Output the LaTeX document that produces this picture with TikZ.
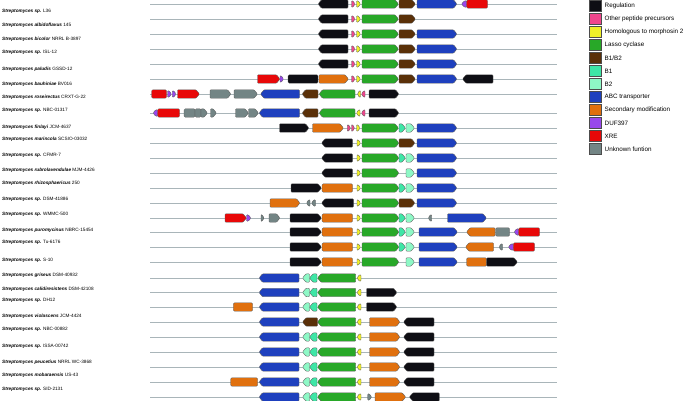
\documentclass[tikz,border=0pt]{standalone}
\usepackage{fontspec}
\setmainfont{Liberation Sans}
\definecolor{reg}{HTML}{0E0E14}
\definecolor{pep}{HTML}{F0468C}
\definecolor{mor}{HTML}{F0F028}
\definecolor{las}{HTML}{28A828}
\definecolor{bb}{HTML}{5A3008}
\definecolor{bone}{HTML}{3EE6A6}
\definecolor{btwo}{HTML}{8EF8C6}
\definecolor{abc}{HTML}{1E40BE}
\definecolor{sec}{HTML}{E0700E}
\definecolor{duf}{HTML}{9848EC}
\definecolor{xre}{HTML}{E80808}
\definecolor{unk}{HTML}{738585}
\definecolor{trk}{HTML}{A9B5B9}
\tikzset{
  gene/.style={draw=black!65,line width=0.35pt,rounded corners=0.8pt,line join=round},
  track/.style={draw=trk,line width=0.9pt},
  lab/.style={anchor=west,inner sep=0pt,font=\fontsize{4.7}{5.5}\selectfont},
  legbox/.style={draw=black!70,line width=0.5pt},
  legtext/.style={anchor=west,inner sep=0pt,font=\fontsize{6.3}{7.5}\selectfont}
}
\newcommand\gR[5][4.2]{\pgfmathsetmacro\gtip{min(3.5,0.6*(#3-#2))}%
  \filldraw[gene,fill=#5] (#2,{#4-#1}) -- ({#3-\gtip},{#4-#1}) -- (#3,#4) -- ({#3-\gtip},{#4+#1}) -- (#2,{#4+#1}) -- cycle;}
\newcommand\gL[5][4.2]{\pgfmathsetmacro\gtip{min(3.5,0.6*(#3-#2))}%
  \filldraw[gene,fill=#5] (#3,{#4-#1}) -- ({#2+\gtip},{#4-#1}) -- (#2,#4) -- ({#2+\gtip},{#4+#1}) -- (#3,{#4+#1}) -- cycle;}
\newcommand\gB[5][4.2]{\filldraw[gene,rounded corners=1.2pt,fill=#5] (#2,{#4-#1}) rectangle (#3,{#4+#1});}
\newcommand\spl[4]{\node[lab] (#1) at (2,#2) {\textbf{\textit{Streptomyces #3}} #4};}
\begin{document}
\begin{tikzpicture}[x=1pt,y=-1pt]
\useasboundingbox (0,0) rectangle (685,401);
% tracks
\foreach \yy in {4,19,34,49,64,79,94,113,128,143,158,173,188,203,218,232,247,262,278,292.5,307,322,337,352,367,382,397}
  \draw[track] (150,\yy) -- (557,\yy);
% labels
\spl{l1}{11}{sp.}{L36}
\spl{l2}{25.7}{albidoflavus}{145}
\spl{l3}{39.3}{bicolor}{NRRL B-3897}
\spl{l4}{52.7}{sp.}{ISL-12}
\spl{l5}{69.3}{paludis}{GSSD-12}
\spl{l6}{84.3}{bauhiniae}{BV016}
\spl{l7}{97.7}{roseirectus}{CRXT-G-22}
\spl{l8}{110}{sp.}{NBC-01317}
\spl{l9}{127.3}{finlayi}{JCM-4637}
\spl{l10}{139.3}{marincola}{SCSIO-03032}
\spl{l11}{155}{sp.}{CFMR-7}
\spl{l12}{170}{rubrolavendulae}{MJM-4426}
\spl{l13}{183.3}{rhizosphaericus}{250}
\spl{l14}{199.3}{sp.}{DSM-41886}
\spl{l15}{214.3}{sp.}{WMMC-500}
\spl{l16}{230}{puromycinus}{NBRC-15454}
\spl{l17}{242.7}{sp.}{Tu-6176}
\spl{l18}{260}{sp.}{S-10}
\spl{l19}{275}{griseus}{DSM-40932}
\spl{l20}{289.3}{calidiresistens}{DSM-42108}
\spl{l21}{300.7}{sp.}{DH12}
\spl{l22}{316.7}{violascens}{JCM-4424}
\spl{l23}{329.3}{sp.}{NBC-00882}
\spl{l24}{346.7}{sp.}{ISSA-00742}
\spl{l25}{362.7}{peucetius}{NRRL WC-3868}
\spl{l26}{375}{mobaraensis}{US-43}
\spl{l27}{389.3}{sp.}{SID-2131}
% row 1
\gL{318}{348}{4}{reg}\gR[3.2]{351.5}{355}{4}{pep}\gR[3.2]{356.5}{360.5}{4}{mor}
\gR{362}{398.5}{4}{las}\gR{399}{415.5}{4}{bb}\gR{417}{457}{4}{abc}
\gL[3.2]{461.5}{466.5}{4}{duf}\gB{466.5}{487.5}{4}{xre}
% row 2
\gL{318}{348}{19}{reg}\gR[3.2]{351.5}{355}{19}{pep}\gR[3.2]{356.5}{360.5}{19}{mor}
\gR{362}{398.5}{19}{las}\gR{399}{415.5}{19}{bb}
% rows 3-5
\foreach \yy in {34,49,64}{
\gL{318}{348}{\yy}{reg}\gR[3.2]{351.5}{355}{\yy}{pep}\gR[3.2]{356.5}{360.5}{\yy}{mor}
\gR{362}{398.5}{\yy}{las}\gR{399}{415.5}{\yy}{bb}\gR{417}{457}{\yy}{abc}}
% row 6
\gR{257.5}{280}{79}{xre}\gR[3.2]{280}{283.5}{79}{duf}\gB{288}{318}{79}{reg}\gR{319}{348.5}{79}{sec}
\gR[3.2]{351.5}{355}{79}{pep}\gR[3.2]{356.5}{360.5}{79}{mor}
\gR{362}{398.5}{79}{las}\gR{399}{415.5}{79}{bb}\gR{417}{457}{79}{abc}\gL{462.5}{493}{79}{reg}
% row 7
\gB{151.5}{166.5}{94}{xre}\gR[3.2]{167.5}{171.5}{94}{duf}\gR[3.2]{172.3}{176}{94}{duf}\gR{177.5}{199.5}{94}{xre}
\gR{210}{231}{94}{unk}\gR{234}{257.5}{94}{unk}\gL{260.5}{299.5}{94}{abc}\gL{302}{318}{94}{bb}
\gL{319}{355}{94}{las}\gL[3.2]{357.5}{360.5}{94}{mor}\gL[3.2]{361.5}{365}{94}{pep}\gR{369}{399}{94}{reg}
% row 8
\gL[3.2]{153}{157.5}{113}{duf}\gB{157.5}{179.5}{113}{xre}\gB{184}{195}{113}{unk}\gB{195}{201}{113}{unk}
\gR{201}{207.5}{113}{unk}\gR{210.5}{216.5}{113}{unk}\gR{235.5}{248.5}{113}{unk}\gR{248.5}{258.5}{113}{unk}
\gL{259}{299.5}{113}{abc}\gL{302}{318}{113}{bb}\gL{319}{355}{113}{las}
\gL[3.2]{356.5}{360}{113}{mor}\gL[3.2]{361.5}{365}{113}{pep}\gR{369}{399}{113}{reg}
% row 9
\gR{279.5}{309}{128}{reg}\gR{312.5}{343.5}{128}{sec}\gR[3.2]{347.3}{350.5}{128}{pep}\gR[3.2]{351.5}{354.5}{128}{pep}
\gR[3.2]{356.5}{360}{128}{mor}\gR{362}{398.5}{128}{las}\gR{399}{405.5}{128}{bone}\gR{406}{414.5}{128}{btwo}\gR{417}{457}{128}{abc}
% row 10
\gL{321.5}{352.5}{143}{reg}\gR[3.2]{357}{360.5}{143}{mor}\gR{362}{399}{143}{las}\gR{399}{415}{143}{bb}\gR{417}{457}{143}{abc}
% row 11
\gL{321.5}{352.5}{158}{reg}\gR[3.2]{357}{360.5}{158}{mor}\gR{362}{399}{158}{las}\gR{399}{405.5}{158}{bone}\gR{406}{414.5}{158}{btwo}\gR{417}{457}{158}{abc}
% row 12
\gL{321.5}{352.5}{173}{reg}\gR[3.2]{357}{360.5}{173}{mor}\gR{362}{399}{173}{las}\gR{406}{414.5}{173}{btwo}\gR{417}{457}{173}{abc}
% row 13
\gR{291}{321.5}{188}{reg}\gB{322}{352.5}{188}{sec}\gR[3.2]{357}{360.5}{188}{mor}\gR{362}{399}{188}{las}\gR{399}{405.5}{188}{bone}\gR{406}{414.5}{188}{btwo}\gR{417}{457}{188}{abc}
% row 14
\gR{270}{300}{203}{sec}\gL[3.2]{306.5}{310}{203}{unk}\gL[3.2]{311.5}{315.5}{203}{unk}
\gL{321.5}{353.5}{203}{reg}\gR[3.2]{357}{360.5}{203}{mor}\gR{362}{399}{203}{las}\gR{399}{415}{203}{bb}\gR{417}{457}{203}{abc}
% row 15
\gR{225}{246.5}{218}{xre}\gR[3.2]{246.5}{251}{218}{duf}\gR[3.2]{261}{264}{218}{unk}\gR{269}{280}{218}{unk}
\gR{290}{321.5}{218}{reg}\gB{322}{352.5}{218}{sec}\gR[3.2]{357}{360.5}{218}{mor}\gR{362}{399}{218}{las}
\gR{399}{405.5}{218}{bone}\gR{406}{414.5}{218}{btwo}\gL[3.2]{428.3}{431.7}{218}{unk}\gR{447.5}{486.5}{218}{abc}
% row 16
\gR{290}{321.5}{232}{reg}\gB{322}{352.5}{232}{sec}\gR[3.2]{357}{360.5}{232}{mor}\gR{362}{399}{232}{las}
\gR{399}{405.5}{232}{bone}\gR{406}{414.5}{232}{btwo}\gR{419}{457.5}{232}{abc}
\gL{466.5}{495}{232}{sec}\gB{495.5}{509.5}{232}{unk}\gL[3.2]{514}{518.5}{232}{duf}\gB{518.5}{539.5}{232}{xre}
% row 17
\gR{290}{321.5}{247}{reg}\gB{322}{352.5}{247}{sec}\gR[3.2]{357}{360.5}{247}{mor}\gR{362}{399}{247}{las}
\gR{399}{405.5}{247}{bone}\gR{406}{414.5}{247}{btwo}\gR{419}{457.5}{247}{abc}
\gL{465.5}{493.5}{247}{sec}\gL[3.2]{499}{502.5}{247}{unk}\gL[3.2]{508.3}{513.3}{247}{duf}\gB{513.3}{534.5}{247}{xre}
% row 18
\gR{290}{321.5}{262}{reg}\gB{322}{352.5}{262}{sec}\gR[3.2]{357}{360.5}{262}{mor}\gR{362}{399}{262}{las}
\gR{406}{414.5}{262}{btwo}\gR{419}{457.5}{262}{abc}\gB{466.5}{486.7}{262}{sec}\gR{486.7}{517.5}{262}{reg}
% row 19
\gL{259}{299}{278}{abc}\gL{302.5}{309.5}{278}{btwo}\gL{309.5}{317}{278}{bone}\gL{317.5}{355.7}{278}{las}\gL[3.2]{357}{361}{278}{mor}
% row 20
\gL{259}{299}{292.5}{abc}\gL{302.5}{309.5}{292.5}{btwo}\gL{309.5}{317}{292.5}{bone}\gL{317.5}{355.7}{292.5}{las}\gL[3.2]{357}{361}{292.5}{mor}
\gR{366.5}{397}{292.5}{reg}
% row 21
\gB{233.3}{252.7}{307}{sec}
\gL{259}{299}{307}{abc}\gL{302.5}{309.5}{307}{btwo}\gL{309.5}{317}{307}{bone}\gL{317.5}{355.7}{307}{las}\gL[3.2]{357}{361}{307}{mor}
\gR{366.5}{397}{307}{reg}
% row 22
\gL{259}{299}{322}{abc}\gL{302.5}{317.5}{322}{bb}\gL{317.5}{355.7}{322}{las}\gL[3.2]{357}{361}{322}{mor}
\gR{369.5}{400}{322}{sec}\gL{403.5}{434}{322}{reg}
% rows 23-26
\foreach \yy in {337,352,367,382}{
\gL{259}{299}{\yy}{abc}\gL{302.5}{309.5}{\yy}{btwo}\gL{309.5}{317}{\yy}{bone}\gL{317.5}{355.7}{\yy}{las}\gL[3.2]{357}{361}{\yy}{mor}
\gR{369.5}{400}{\yy}{sec}\gL{403.5}{434}{\yy}{reg}}
\gB{230.7}{257.7}{382}{sec}
% row 27
\gL{259}{299}{397}{abc}\gL{302.5}{309.5}{397}{btwo}\gL{309.5}{317}{397}{bone}\gL{317.5}{355.7}{397}{las}\gL[3.2]{357}{361}{397}{mor}
\gR[3.2]{367.7}{371.7}{397}{unk}\gR{375}{405.7}{397}{sec}\gL{409.3}{439.3}{397}{reg}
% legend
\foreach \c/\t [count=\i from 0] in {reg/Regulation,pep/Other peptide precursors,mor/Homologous to morphosin 2,las/Lasso cyclase,bb/B1\slash B2,bone/B1,btwo/B2,abc/ABC transporter,sec/Secondary modification,duf/DUF397,xre/XRE,unk/Unknown funtion}{
  \filldraw[legbox,fill=\c] (589.5,{6+13*\i-5.5}) rectangle (601,{6+13*\i+5.5});
  \node[legtext] (lg\i) at (604.5,{6+13*\i}) {\t};
}
\end{tikzpicture}
\end{document}
